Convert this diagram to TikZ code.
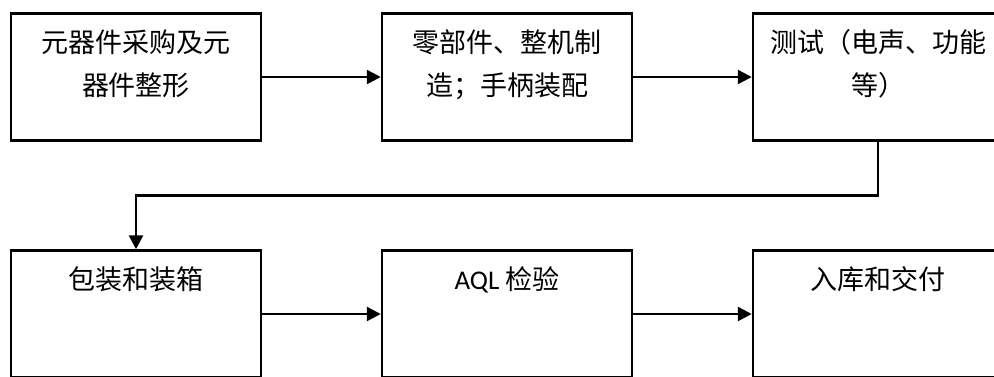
\documentclass[tikz,border=0pt]{standalone}
\usepackage{fontspec}
\setmainfont{Noto Sans CJK SC}
\newfontfamily\latinfont{Carlito}
\usetikzlibrary{arrows.meta, positioning, calc}
\newcommand{\boxtext}[1]{\parbox[c][95pt][t]{246pt}{\centering #1}}

\begin{document}
\begin{tikzpicture}[x=1pt, y=1pt, font=\fontsize{27}{43}\selectfont,
        box/.style={draw=black, line width=2.5pt, minimum width=250pt, minimum height=127pt,
          inner sep=0pt, align=center},
        arr/.style={-{Triangle[length=14pt,width=14pt]}, draw=black, line width=2.5pt}]
        \useasboundingbox (0,0) rectangle (994,-376);
        \clip (0,0) rectangle (994,-376);
        % top row
        \node[box] (parts) at (136,-77) {\boxtext{元器件采购及元\\器件整形}};
        \node[box, right=118.5pt of parts] (build) {\boxtext{零部件、整机制\\造；手柄装配}};
        \node[box, right=118.5pt of build] (test) {\boxtext{测试（电声、功能\\等）}};
        % bottom row
        \node[box, below=107.5pt of parts] (pack) {\boxtext{包装和装箱}};
        \node[box, right=118.5pt of pack] (aql) {\boxtext{{\latinfont AQL} 检验}};
        \node[box, right=118.5pt of aql] (ship) {\boxtext{入库和交付}};
        \coordinate (mid) at ($(test.south)!0.5!(pack.north)$);
        \draw[arr] (parts) -- (build);
        \draw[arr] (build) -- (test);
        \draw[arr] (test.south) |- (mid) -| (pack.north);
        \draw[arr] (pack) -- (aql);
        \draw[arr] (aql) -- (ship);
      \end{tikzpicture}
\end{document}
